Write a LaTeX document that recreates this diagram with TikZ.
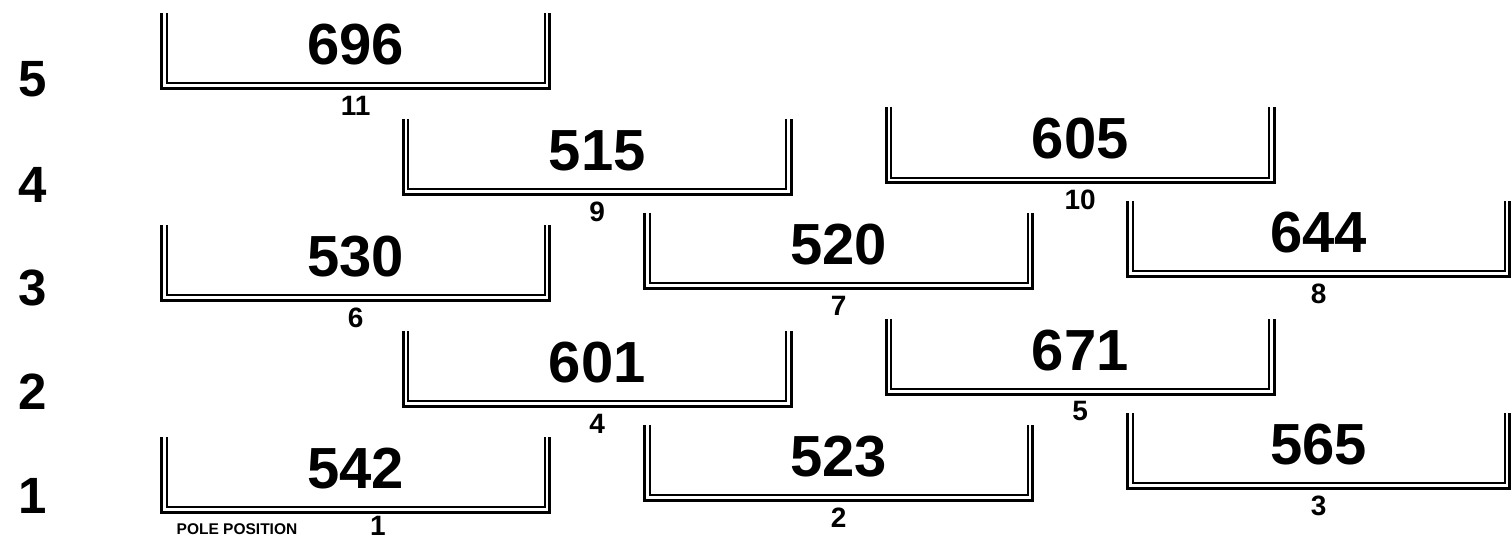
\documentclass[tikz,border=0pt]{standalone}
\usepackage{fontspec}
\setmainfont{Liberation Sans}
\newcommand\carnumfont{\fontsize{58}{62}\selectfont\bfseries}
\newcommand\rowlblfont{\fontsize{51}{56}\selectfont\bfseries}
\newcommand\slotlblfont{\fontsize{28}{32}\selectfont\bfseries}
\newcommand\polelblfont{\fontsize{15.5}{18}\selectfont\bfseries}
\begin{document}
\begin{tikzpicture}[x=1pt,y=-1pt,
  outerline/.style={line width=3pt, line join=miter},
  innerline/.style={line width=1.9pt, line join=miter},
  carnum/.style={font=\carnumfont, inner sep=0pt, anchor=center},
  rowlbl/.style={font=\rowlblfont, inner sep=0pt, anchor=center},
  slotlbl/.style={font=\slotlblfont, inner sep=0pt, anchor=center},
  polelbl/.style={font=\polelblfont, inner sep=0pt, anchor=center}]
\useasboundingbox (0,0) rectangle (1512,540);
% row labels
\node[rowlbl] (row5) at (33,79) {5};
\node[rowlbl] (row4) at (33,185) {4};
\node[rowlbl] (row3) at (33,288) {3};
\node[rowlbl] (row2) at (33,392) {2};
\node[rowlbl] (row1) at (33,496) {1};
% grid slots: left / top / width / car number / slot number / slot label x / slot label y offset
\foreach \L/\T/\W/\num/\slot/\sx/\sy in {
  161.7/13/388/696/11/355.7/92.5,
  403.2/119/388/515/9/597.2/92.5,
  886.2/107.5/388/605/10/1080.2/92.5,
  161.7/225/388/530/6/355.7/92.5,
  644.7/213/388/520/7/838.7/92.5,
  1127.7/201/382/644/8/1318.7/92.5,
  403.2/331/388/601/4/597.2/92.5,
  886.2/319/388/671/5/1080.2/92.5,
  161.7/437/388/542/1/378/88.5,
  644.7/425/388/523/2/838.7/92.5,
  1127.7/413/382/565/3/1318.7/92.5}{
  \draw[outerline] (\L,\T) -- (\L,\T+75.5) -- (\L+\W,\T+75.5) -- (\L+\W,\T);
  \draw[innerline] (\L+5,\T) -- (\L+5,\T+70.2) -- (\L+\W-5,\T+70.2) -- (\L+\W-5,\T);
  \node[carnum] (car\num) at (\L+\W/2,\T+31.5) {\num};
  \node[slotlbl] (slot\slot) at (\sx,\T+\sy) {\slot};
}
\node[polelbl] (pole) at (237,529) {POLE POSITION};
\end{tikzpicture}
\end{document}
